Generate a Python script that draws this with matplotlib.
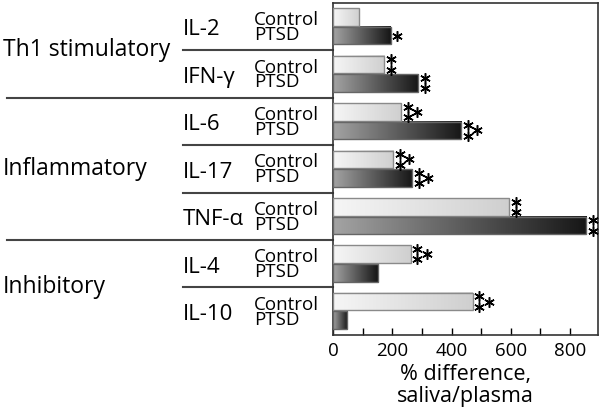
import numpy as np
import matplotlib
matplotlib.use("Agg")
import matplotlib.pyplot as plt
from matplotlib.colors import LinearSegmentedColormap
import matplotlib.transforms as mtransforms

plt.rcParams['font.family'] = ['Open Sans', 'DejaVu Sans']

cytokines = ["IL-2", "IFN-\u03b3", "IL-6", "IL-17", "TNF-\u03b1", "IL-4", "IL-10"]
control = [88, 173, 230, 204, 595, 262, 471]
ptsd = [195, 288, 432, 268, 854, 151, 48]
# number of asterisks next to each bar
control_stars = [0, 2, 3, 3, 2, 3, 3]
ptsd_stars = [1, 2, 3, 3, 2, 0, 0]
categories = ["Th1 stimulatory", "Inflammatory", "Inhibitory"]
category_pos = [0.5, 3.0, 5.5]
long_lines = [1.5, 4.5]
short_lines = [0.5, 2.5, 3.5, 5.5]

fig = plt.figure(figsize=(6, 4.17), dpi=100)
ax = fig.add_axes([0.555, 0.197, 0.442, 0.796])

cmap_c = LinearSegmentedColormap.from_list("c", ["#f6f6f6", "#cfcfcf"])
cmap_p = LinearSegmentedColormap.from_list("p", ["#a4a4a4", "#161616"])
grad = np.linspace(0, 1, 256).reshape(1, -1)

h = 0.37
off_c = -0.2
off_p = 0.19
y = np.arange(len(cytokines))

for i in range(len(cytokines)):
    for val, off, cm, ec in [(control[i], off_c, cmap_c, "#8a8a8a"),
                             (ptsd[i], off_p, cmap_p, "#666666")]:
        yc = y[i] + off
        ax.imshow(grad, cmap=cm, aspect="auto", interpolation="bilinear",
                  extent=(0, val, yc - h / 2, yc + h / 2), zorder=2)
        ax.barh(yc, val, height=h, fill=False, edgecolor=ec, lw=1, zorder=3)

# asterisks
def draw_stars(val, yc, n):
    if n == 0:
        return
    x0 = val + 22
    if n == 1:
        pts = [(x0, yc)]
    elif n == 2:
        pts = [(x0, yc - 0.11), (x0, yc + 0.11)]
    else:
        pts = [(x0, yc - 0.11), (x0, yc + 0.11), (x0 + 32, yc)]
    for px, py in pts:
        ax.plot(px, py, marker=(6, 2, 0), ms=7.5, mew=1.1, color="black",
                clip_on=False, zorder=4)

for i in range(len(cytokines)):
    draw_stars(control[i], y[i] + off_c, control_stars[i])
    draw_stars(ptsd[i], y[i] + off_p, ptsd_stars[i])

ax.set_xlim(0, 895)
ax.set_ylim(6.5, -0.5)
ax.set_yticks([])
ax.set_xticks([0, 200, 400, 600, 800])
ax.set_xticks([100, 300, 500, 700], minor=True)
ax.tick_params(axis="x", which="both", direction="in", length=5, width=1,
               labelsize=13.5, pad=5)
ax.set_xlabel("% difference,\nsaliva/plasma", fontsize=15.5, linespacing=1.05,
              labelpad=3)
for s in ax.spines.values():
    s.set_color("#333333")
    s.set_linewidth(1.2)

trans = mtransforms.blended_transform_factory(ax.transAxes, ax.transData)
for yl in long_lines:
    ax.plot([-1.23, 0], [yl, yl], color="#444444", lw=1.5, transform=trans,
            clip_on=False)
for yl in short_lines:
    ax.plot([-0.566, 0], [yl, yl], color="#444444", lw=1.5, transform=trans,
            clip_on=False)

for name, pos in zip(categories, category_pos):
    ax.text(-1.245, pos, name, transform=trans, fontsize=16.5, ha="left",
            va="center")

for i, name in enumerate(cytokines):
    ax.text(-0.566, y[i] + 0.07, name, transform=trans, fontsize=16,
            ha="left", va="center")
    ax.text(-0.298, y[i] + 0.02, "Control\nPTSD", transform=trans,
            fontsize=13.5, ha="left", va="center", linespacing=0.78)

fig.savefig("out.png", dpi=100)
